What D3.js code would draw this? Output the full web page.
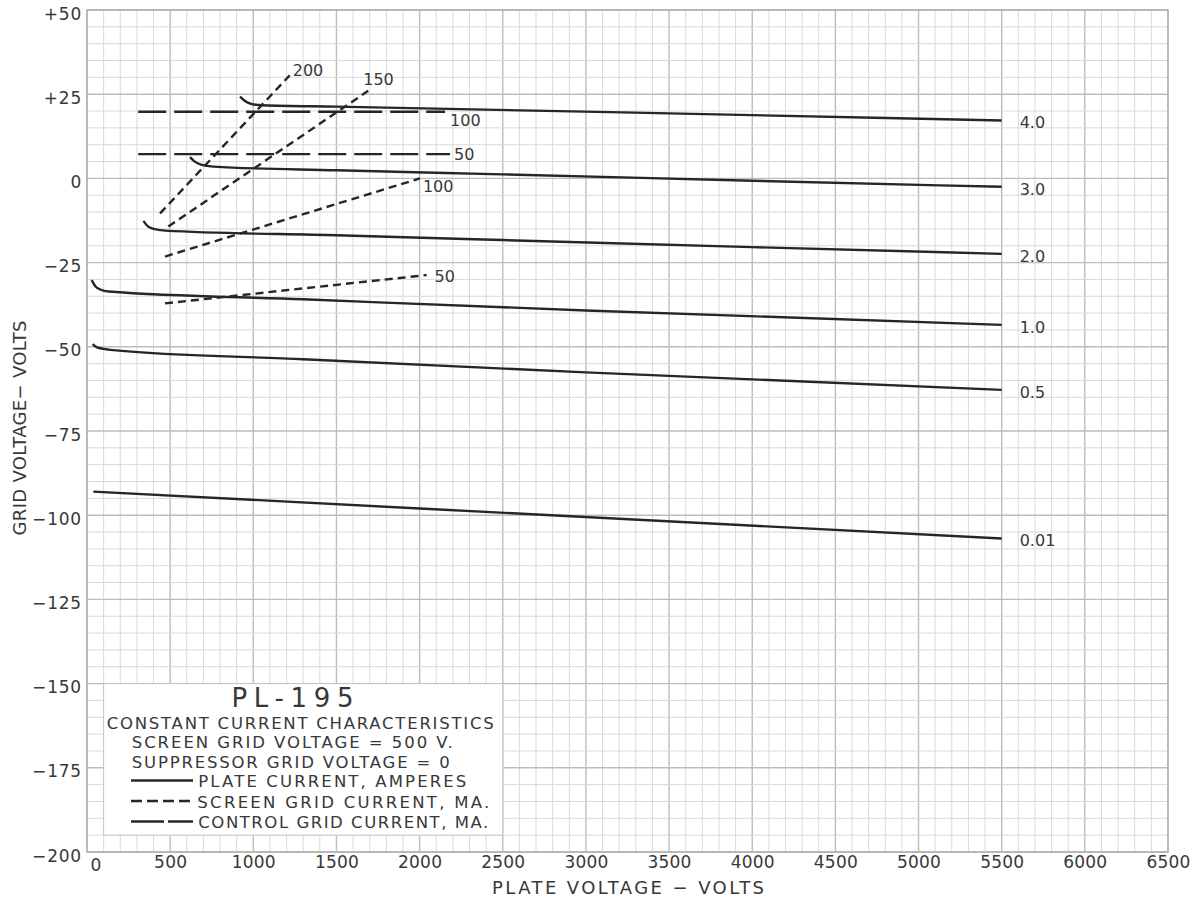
<!DOCTYPE html>
<html>
<head>
<meta charset="utf-8">
<script src="https://cdn.jsdelivr.net/npm/d3@7"></script>
<style>
  body { margin: 0; background: #fff; }
  text { font-family: "DejaVu Sans", "Open Sans", sans-serif; fill: #383838; }
</style>
</head>
<body>
<svg id="chart" width="1198" height="903"></svg>
<script>
// ---- Axis ticks ----
const plateVoltageTicks = [0, 500, 1000, 1500, 2000, 2500, 3000, 3500, 4000, 4500, 5000, 5500, 6000, 6500];
const gridVoltageTicks = [50, 25, 0, -25, -50, -75, -100, -125, -150, -175, -200];
const gridVoltageLabels = ["+50", "+25", "0", "\u221225", "\u221250", "\u221275", "\u2212100", "\u2212125", "\u2212150", "\u2212175", "\u2212200"];

// ---- Plate current curves (amperes): [plate volts, grid volts] ----
const plate40 = [[920, 24.3], [950, 23.0], [990, 22.1], [1060, 21.7], [1500, 21.3], [3500, 19.3], [5500, 17.2]];
const plate30 = [[619, 6.3], [650, 4.9], [690, 4.0], [760, 3.5], [1500, 2.4], [2500, 1.2], [4000, -0.7], [5500, -2.5]];
const plate20 = [[339, -12.6], [365, -14.2], [400, -15.0], [470, -15.5], [1500, -16.9], [2500, -18.3], [4000, -20.4], [5500, -22.4]];
const plate10 = [[28, -30.2], [50, -32.0], [80, -33.0], [130, -33.6], [1300, -35.9], [3000, -39.2], [5500, -43.5]];
const plate05 = [[34, -49.2], [60, -50.2], [100, -50.6], [140, -50.9], [1300, -53.7], [3000, -57.6], [5500, -62.8]];
const plate001 = [[38, -93.0], [2000, -98.0], [5500, -106.9]];
const plateCurrentLabels = ["4.0", "3.0", "2.0", "1.0", "0.5", "0.01"];

// ---- Screen grid current (mA) ----
const screen200 = [[439, -10.4], [1219, 30.6]];
const screen150 = [[489, -14.3], [1691, 26.0]];
const screen100 = [[469, -23.2], [2002, 0.0]];
const screen50 = [[469, -37.1], [2042, -28.7]];
const screenLabels = ["200", "150", "100", "50"];

// ---- Control grid current (mA) ----
const control100 = [[308, 19.8], [2153, 19.8]];
const control50 = [[308, 7.2], [2183, 7.2]];
const controlLabels = ["100", "50"];

// ---- Layout ----
const svg = d3.select("#chart");
const x = d3.scaleLinear().domain([0, 6500]).range([87, 1168]);
const y = d3.scaleLinear().domain([-200, 50]).range([852, 10]);

const INK = "#262626";
const SHORT_DASH = "8,5";
const LONG_DASH = "28,8";

// ---- Graph paper grid ----
const grid = svg.append("g");
const minorX = d3.range(0, 6501, 100);
const minorY = d3.range(-200, 51, 5);
grid.selectAll("line.vx").data(minorX).join("line")
  .attr("x1", d => x(d)).attr("x2", d => x(d))
  .attr("y1", y(-200)).attr("y2", y(50))
  .attr("stroke", d => d % 500 === 0 ? "#bdbdbd" : "#d9d9d9")
  .attr("stroke-width", d => d % 500 === 0 ? 1.4 : 1);
grid.selectAll("line.hy").data(minorY).join("line")
  .attr("y1", d => y(d)).attr("y2", d => y(d))
  .attr("x1", x(0)).attr("x2", x(6500))
  .attr("stroke", d => d % 25 === 0 ? "#bdbdbd" : "#d9d9d9")
  .attr("stroke-width", d => d % 25 === 0 ? 1.4 : 1);
grid.append("rect")
  .attr("x", x(0)).attr("y", y(50))
  .attr("width", x(6500) - x(0)).attr("height", y(-200) - y(50))
  .attr("fill", "none").attr("stroke", "#b0b0b0").attr("stroke-width", 1.4);

// ---- Axes (labels only, the paper grid carries the ticks) ----
const yAxis = d3.axisLeft(y).tickValues(gridVoltageTicks).tickSize(0)
  .tickFormat((d, i) => gridVoltageLabels[i]);
const yg = svg.append("g").attr("transform", `translate(${x(0)},0)`).call(yAxis);
yg.select(".domain").remove();
yg.selectAll("text")
  .attr("x", -5).attr("y", 9).attr("dy", null)
  .style("font-size", "17px").style("letter-spacing", "0.8px")
  .style("font-family", "'DejaVu Sans', sans-serif").attr("fill", "#383838");

const xAxis = d3.axisBottom(x).tickValues(plateVoltageTicks).tickSize(0).tickFormat(d3.format("d"));
const xg = svg.append("g").attr("transform", `translate(0,${y(-200)})`).call(xAxis);
xg.select(".domain").remove();
xg.selectAll("text")
  .attr("y", 16).attr("dy", null)
  .style("font-size", "17px").style("letter-spacing", "0.2px")
  .style("font-family", "'DejaVu Sans', sans-serif").attr("fill", "#383838");
xg.selectAll(".tick").filter(d => d === 0).select("text")
  .attr("text-anchor", "start").attr("x", 3).attr("y", 19);

svg.append("text")
  .attr("x", 628).attr("y", 894)
  .attr("text-anchor", "middle")
  .attr("textLength", 272).attr("lengthAdjust", "spacing")
  .style("font-size", "18px")
  .text("PLATE VOLTAGE \u2212 VOLTS");
svg.append("text")
  .attr("transform", "translate(26,428) rotate(-90)")
  .attr("text-anchor", "middle")
  .attr("textLength", 215).attr("lengthAdjust", "spacing")
  .style("font-size", "18px")
  .text("GRID VOLTAGE\u2212 VOLTS");

// ---- Curves ----
const curve = d3.line().x(d => x(d[0])).y(d => y(d[1])).curve(d3.curveMonotoneX);
const straight = d3.line().x(d => x(d[0])).y(d => y(d[1]));

const marks = svg.append("g").attr("fill", "none").attr("stroke", INK).attr("stroke-linecap", "butt");

// plate current: solid
const plateSeries = [plate40, plate30, plate20, plate10, plate05, plate001];
marks.selectAll("path.plate").data(plateSeries).join("path")
  .attr("d", curve).attr("stroke-width", 2.4);
svg.selectAll("text.plate").data(plateSeries).join("text")
  .attr("x", d => x(d[d.length - 1][0]) + 18)
  .attr("y", d => y(d[d.length - 1][1]) + 8)
  .style("font-size", "16px")
  .text((d, i) => plateCurrentLabels[i]);

// screen grid current: short dashes
const screenSeries = [screen200, screen150, screen100, screen50];
const screenLabelOffset = [[3, 1], [-5, -6], [3, 14], [8, 7]];
marks.selectAll("path.screen").data(screenSeries).join("path")
  .attr("d", straight).attr("stroke-width", 2.4).attr("stroke-dasharray", SHORT_DASH);
svg.selectAll("text.screen").data(screenSeries).join("text")
  .attr("x", (d, i) => x(d[1][0]) + screenLabelOffset[i][0])
  .attr("y", (d, i) => y(d[1][1]) + screenLabelOffset[i][1])
  .style("font-size", "16px")
  .text((d, i) => screenLabels[i]);

// control grid current: long dashes
const controlSeries = [control100, control50];
const controlLabelOffset = [[5, 14], [4, 6]];
marks.selectAll("path.control").data(controlSeries).join("path")
  .attr("d", straight).attr("stroke-width", 2.4).attr("stroke-dasharray", LONG_DASH);
svg.selectAll("text.control").data(controlSeries).join("text")
  .attr("x", (d, i) => x(d[1][0]) + controlLabelOffset[i][0])
  .attr("y", (d, i) => y(d[1][1]) + controlLabelOffset[i][1])
  .style("font-size", "16px")
  .text((d, i) => controlLabels[i]);

// ---- Legend block ----
const lg = svg.append("g");
lg.append("rect")
  .attr("x", x(100)).attr("y", y(-150))
  .attr("width", x(2500) - x(100)).attr("height", y(-195) - y(-150))
  .attr("fill", "#fff").attr("stroke", "#c4c4c4").attr("stroke-width", 1);

lg.append("text").attr("x", 292.5).attr("y", 707).attr("text-anchor", "middle")
  .attr("textLength", 122).attr("lengthAdjust", "spacing")
  .style("font-size", "26px").text("PL-195");

const legendLines = [
  { t: "CONSTANT CURRENT CHARACTERISTICS", x: 106.7, y: 728.5, w: 387 },
  { t: "SCREEN GRID VOLTAGE = 500 V.", x: 131.7, y: 747.5, w: 321 },
  { t: "SUPPRESSOR GRID VOLTAGE = 0", x: 131.7, y: 767.5, w: 318 },
  { t: "PLATE CURRENT, AMPERES", x: 198.3, y: 787, w: 268 },
  { t: "SCREEN GRID CURRENT, MA.", x: 197.3, y: 807.5, w: 292 },
  { t: "CONTROL GRID CURRENT, MA.", x: 198.3, y: 828, w: 290 }
];
lg.selectAll("text.item").data(legendLines).join("text")
  .attr("x", d => d.x).attr("y", d => d.y)
  .attr("textLength", d => d.w).attr("lengthAdjust", "spacing")
  .style("font-size", "16.5px").text(d => d.t);

const legendKeys = [
  { y: 780.5, dash: null },
  { y: 801, dash: "11,5" },
  { y: 821.5, dash: "33,4" }
];
lg.selectAll("line.key").data(legendKeys).join("line")
  .attr("x1", 131).attr("x2", 193)
  .attr("y1", d => d.y).attr("y2", d => d.y)
  .attr("stroke", INK).attr("stroke-width", 2.4)
  .attr("stroke-dasharray", d => d.dash);
</script>
</body>
</html>
